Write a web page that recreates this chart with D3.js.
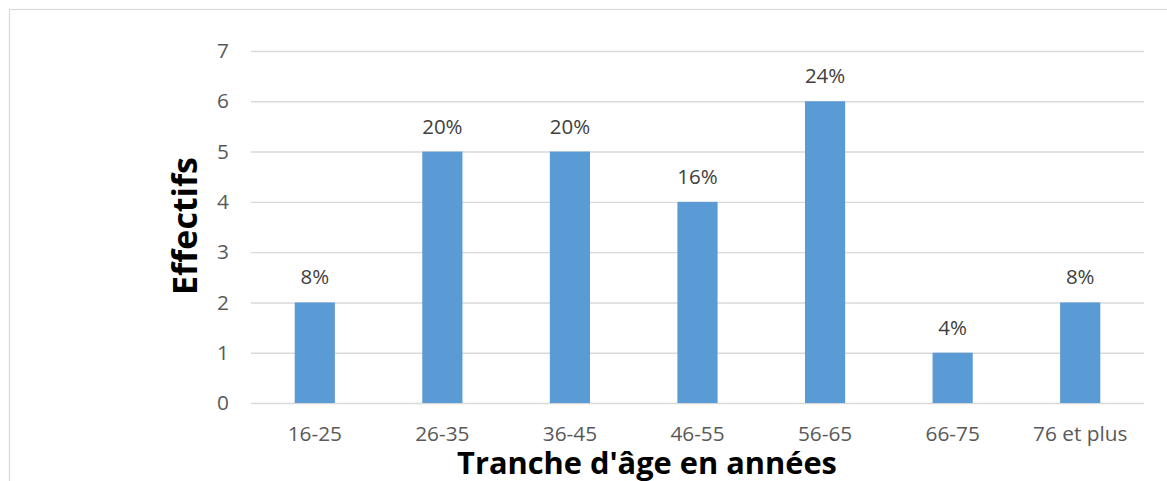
<!DOCTYPE html>
<html><head><meta charset="utf-8">
<script src="https://cdn.jsdelivr.net/npm/d3@7"></script>
<style>body{margin:0;background:#fff}svg{display:block}</style>
</head><body>
<script>
const categories = ["16-25","26-35","36-45","46-55","56-65","66-75","76 et plus"];
const values = [2,5,5,4,6,1,2];
const pctLabels = ["8%","20%","20%","16%","24%","4%","8%"];
const yTicks = [0,1,2,3,4,5,6,7];

const W = 1167, H = 481;
const m = {left:251, right:23, top:51, bottom:78};
const svg = d3.select("body").append("svg").attr("width",W).attr("height",H);
svg.append("rect").attr("x",9.5).attr("y",9.5).attr("width",1300).attr("height",600)
  .attr("fill","#fff").attr("stroke","#d9d9d9").attr("stroke-width",1.2);

const x = d3.scaleBand().domain(categories).range([m.left, W-m.right]).padding(0);
const y = d3.scaleLinear().domain([0,7]).range([H-m.bottom, m.top]);
const barW = x.bandwidth()*0.315;

const ga = svg.append("g").attr("transform",`translate(${m.left},0)`)
  .call(d3.axisLeft(y).tickValues(yTicks).tickFormat(d3.format("d")).tickSize(-(W-m.right-m.left)).tickPadding(22));
ga.select(".domain").remove();
ga.selectAll(".tick line").attr("stroke","#d9d9d9").attr("stroke-width",1.4);
ga.selectAll(".tick text").attr("fill","#595959").style("font-family","'Open Sans'").style("font-size","20.8px");

svg.append("g").selectAll("rect").data(values).join("rect")
  .attr("x",(d,i)=>x(categories[i])+x.bandwidth()/2-barW/2)
  .attr("y",d=>y(d)).attr("width",barW).attr("height",d=>y(0)-y(d))
  .attr("fill","#5b9bd5");

svg.append("g").selectAll("text").data(values).join("text")
  .attr("x",(d,i)=>x(categories[i])+x.bandwidth()/2)
  .attr("y",d=>y(d)-18).attr("text-anchor","middle")
  .attr("fill","#404040").style("font-family","'Open Sans'").style("font-size","20.5px")
  .text((d,i)=>pctLabels[i]);

const gx = svg.append("g").attr("transform",`translate(0,${y(0)})`)
  .call(d3.axisBottom(x).tickSize(0).tickPadding(0));
gx.select(".domain").remove();
gx.selectAll(".tick text").attr("dy",null).attr("y",38).attr("fill","#595959")
  .style("font-family","'Open Sans'").style("font-size","20.8px");

function fit(sel, target){
  const n = sel.node(); const fs = 30; sel.style("font-size",fs+"px");
  const w = n.getComputedTextLength(); sel.style("font-size",(fs*target/w)+"px");
}
const xt = svg.append("text").attr("x",647).attr("y",474).attr("text-anchor","middle")
  .style("font-family","'Open Sans'").style("font-weight","bold").attr("fill","#000")
  .text("Tranche d'âge en années");
fit(xt,380);
const yt = svg.append("text").attr("transform","translate(197,226) rotate(-90)").attr("text-anchor","middle")
  .style("font-family","'Open Sans'").style("font-weight","bold").attr("fill","#000")
  .text("Effectifs");
fit(yt,138);
</script>
</body></html>
